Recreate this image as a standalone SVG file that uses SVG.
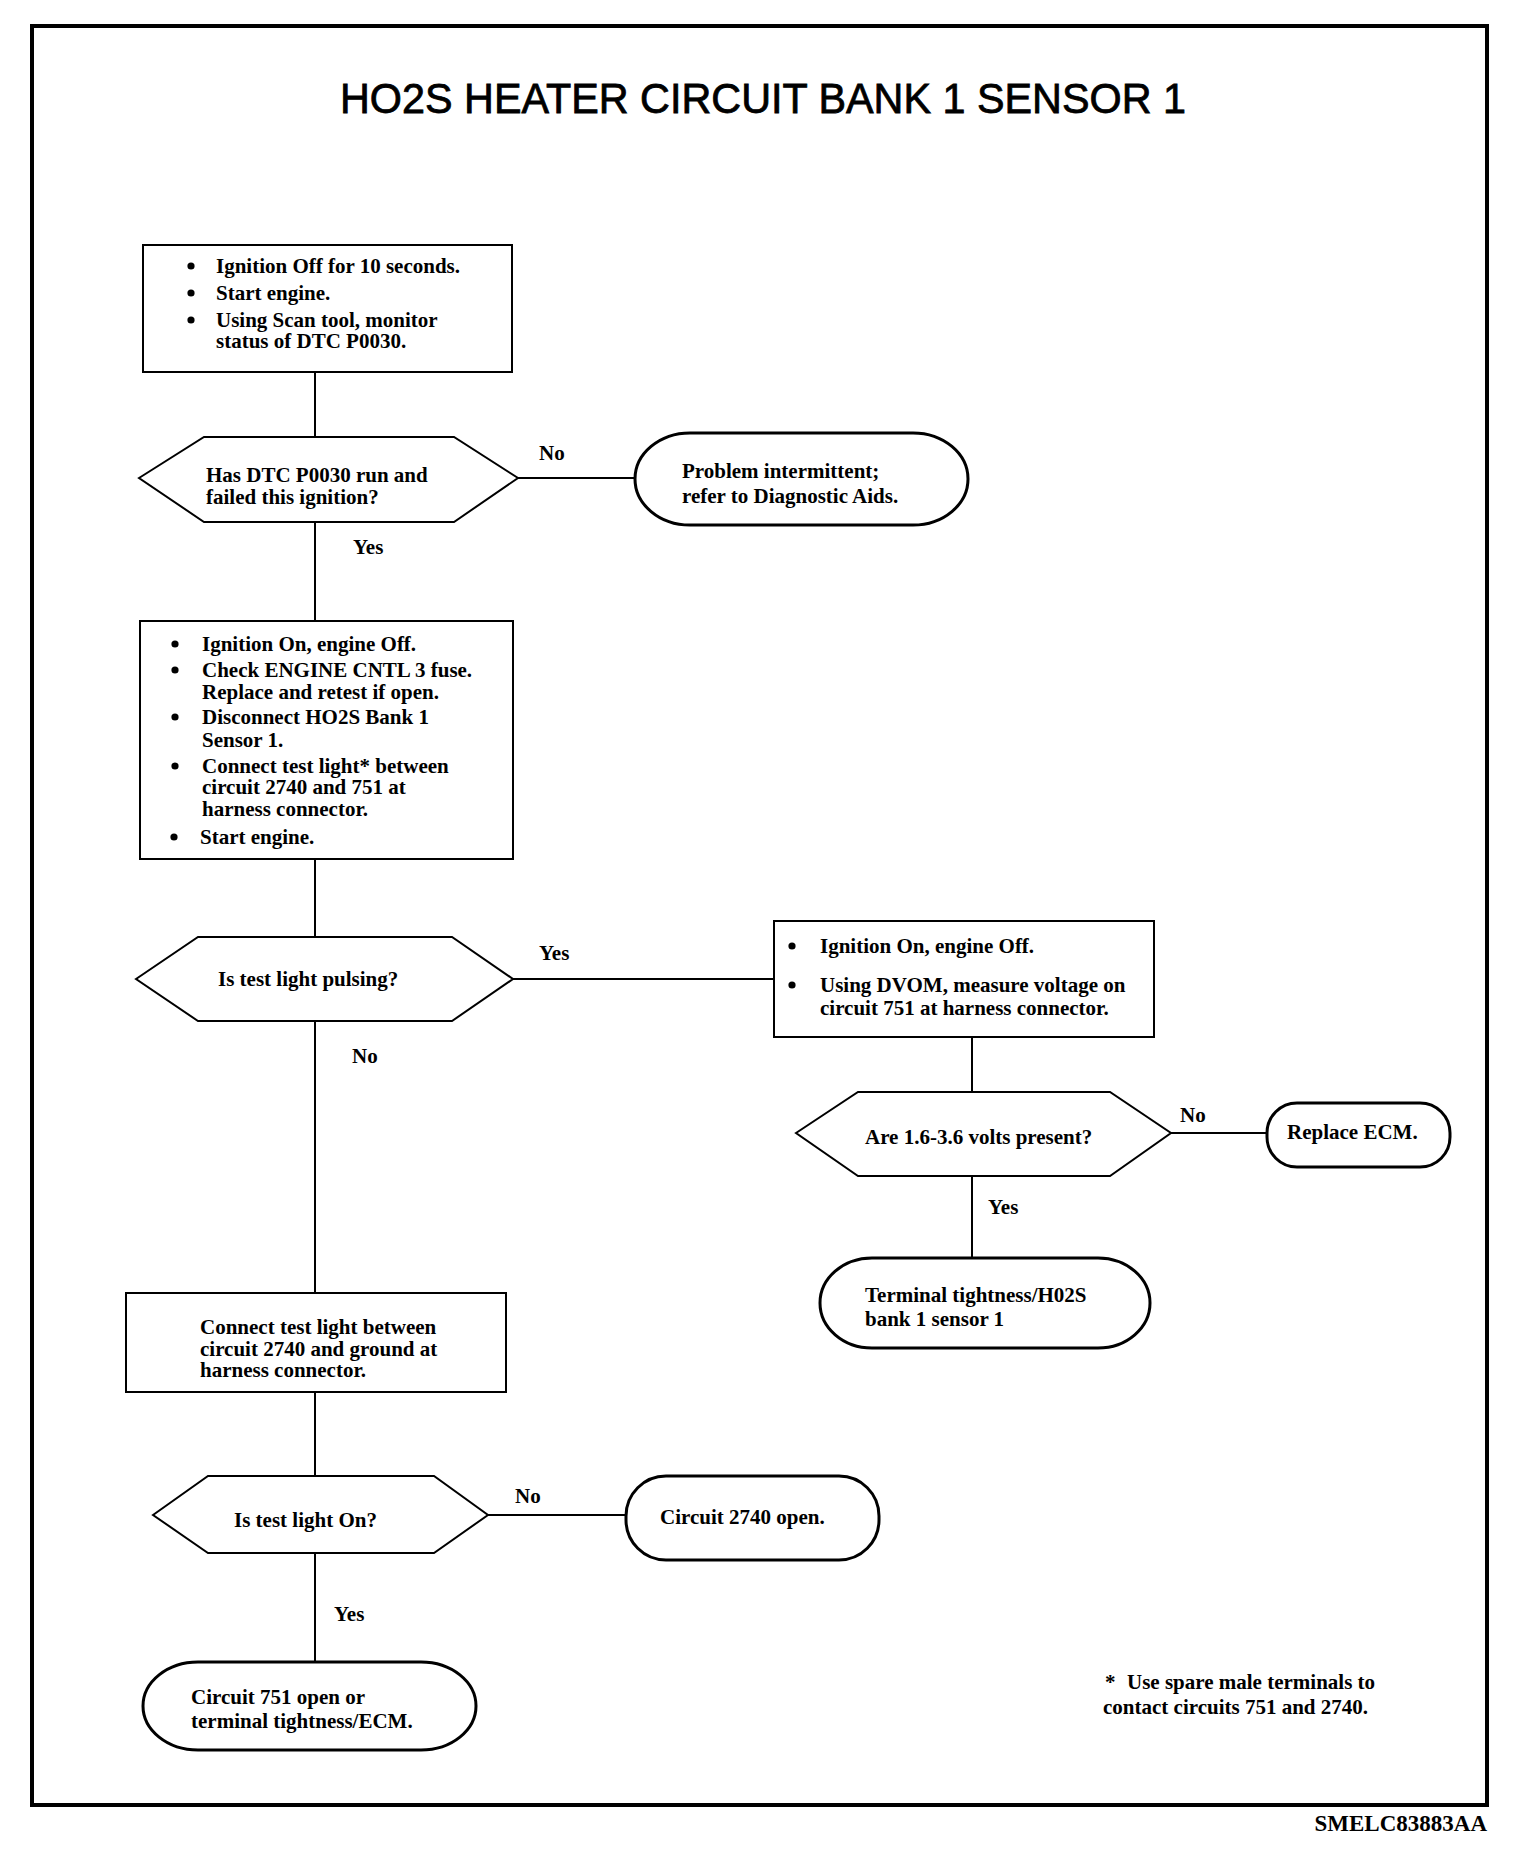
<svg xmlns="http://www.w3.org/2000/svg" width="1536" height="1860" viewBox="0 0 1536 1860">
<style>
.t{font-family:"Liberation Serif","Times New Roman",serif;font-weight:bold;font-size:21px;fill:#000}
.title{font-family:"Liberation Sans",Arial,sans-serif;font-size:43px;fill:#000;stroke:#000;stroke-width:0.8}
.box{fill:#fff;stroke:#000;stroke-width:2}
.term{fill:#fff;stroke:#000;stroke-width:3}
.dec{fill:#fff;stroke:#000;stroke-width:2}
.ln{stroke:#000;stroke-width:2;fill:none}
.bul{fill:#000}
</style>
<rect x="0" y="0" width="1536" height="1860" fill="#fff"/>
<rect x="32" y="26" width="1455" height="1779" fill="none" stroke="#000" stroke-width="4"/>
<text class="title" x="340" y="113" textLength="846" lengthAdjust="spacingAndGlyphs">HO2S HEATER CIRCUIT BANK 1 SENSOR 1</text>

<g id="connectors">
<line class="ln" x1="315" y1="372" x2="315" y2="437"/>
<line class="ln" x1="518" y1="478" x2="635" y2="478"/>
<line class="ln" x1="315" y1="522" x2="315" y2="621"/>
<line class="ln" x1="315" y1="859" x2="315" y2="937"/>
<line class="ln" x1="513" y1="979" x2="774" y2="979"/>
<line class="ln" x1="315" y1="1021" x2="315" y2="1293"/>
<line class="ln" x1="972" y1="1037" x2="972" y2="1092"/>
<line class="ln" x1="1171" y1="1133" x2="1267" y2="1133"/>
<line class="ln" x1="972" y1="1176" x2="972" y2="1258"/>
<line class="ln" x1="315" y1="1392" x2="315" y2="1476"/>
<line class="ln" x1="488" y1="1515" x2="626" y2="1515"/>
<line class="ln" x1="315" y1="1553" x2="315" y2="1662"/>
<text class="t" x="539" y="460">No</text>
<text class="t" x="353" y="554">Yes</text>
<text class="t" x="539" y="960">Yes</text>
<text class="t" x="352" y="1063">No</text>
<text class="t" x="1180" y="1122">No</text>
<text class="t" x="988" y="1214">Yes</text>
<text class="t" x="515" y="1503">No</text>
<text class="t" x="334" y="1621">Yes</text>
</g>

<g id="box1">
<rect class="box" x="143" y="245" width="369" height="127"/>
<circle class="bul" cx="191" cy="266" r="3.6"/><text class="t" x="216" y="273">Ignition Off for 10 seconds.</text>
<circle class="bul" cx="191" cy="293" r="3.6"/><text class="t" x="216" y="300">Start engine.</text>
<circle class="bul" cx="191" cy="320" r="3.6"/><text class="t" x="216" y="327">Using Scan tool, monitor</text>
<text class="t" x="216" y="348">status of DTC P0030.</text>
</g>

<g id="dec1">
<polygon class="dec" points="139,478 204,437 454,437 518,478 454,522 204,522"/>
<text class="t" x="206" y="482">Has DTC P0030 run and</text>
<text class="t" x="206" y="504">failed this ignition?</text>
</g>

<g id="term1">
<rect class="term" x="635" y="433" width="333" height="92" rx="55" ry="46"/>
<text class="t" x="682" y="478">Problem intermittent;</text>
<text class="t" x="682" y="503">refer to Diagnostic Aids.</text>
</g>

<g id="box2">
<rect class="box" x="140" y="621" width="373" height="238"/>
<circle class="bul" cx="175" cy="644" r="3.6"/><text class="t" x="202" y="651">Ignition On, engine Off.</text>
<circle class="bul" cx="175" cy="670" r="3.6"/><text class="t" x="202" y="677">Check ENGINE CNTL 3 fuse.</text>
<text class="t" x="202" y="699">Replace and retest if open.</text>
<circle class="bul" cx="175" cy="717" r="3.6"/><text class="t" x="202" y="724">Disconnect HO2S Bank 1</text>
<text class="t" x="202" y="747">Sensor 1.</text>
<circle class="bul" cx="175" cy="766" r="3.6"/><text class="t" x="202" y="773">Connect test light* between</text>
<text class="t" x="202" y="794">circuit 2740 and 751 at</text>
<text class="t" x="202" y="816">harness connector.</text>
<circle class="bul" cx="174" cy="837" r="3.6"/><text class="t" x="200" y="844">Start engine.</text>
</g>

<g id="dec2">
<polygon class="dec" points="136,979 198,937 452,937 513,979 452,1021 198,1021"/>
<text class="t" x="218" y="986">Is test light pulsing?</text>
</g>

<g id="box3">
<rect class="box" x="774" y="921" width="380" height="116"/>
<circle class="bul" cx="792" cy="946" r="3.6"/><text class="t" x="820" y="953">Ignition On, engine Off.</text>
<circle class="bul" cx="792" cy="985" r="3.6"/><text class="t" x="820" y="992">Using DVOM, measure voltage on</text>
<text class="t" x="820" y="1015">circuit 751 at harness connector.</text>
</g>

<g id="dec3">
<polygon class="dec" points="796,1133 858,1092 1110,1092 1171,1133 1110,1176 858,1176"/>
<text class="t" x="865" y="1144">Are 1.6-3.6 volts present?</text>
</g>

<g id="term2">
<rect class="term" x="1267" y="1103" width="183" height="64" rx="30" ry="30"/>
<text class="t" x="1287" y="1139">Replace ECM.</text>
</g>

<g id="term3">
<rect class="term" x="820" y="1258" width="330" height="90" rx="52" ry="45"/>
<text class="t" x="865" y="1302">Terminal tightness/H02S</text>
<text class="t" x="865" y="1326">bank 1 sensor 1</text>
</g>

<g id="box4">
<rect class="box" x="126" y="1293" width="380" height="99"/>
<text class="t" x="200" y="1334">Connect test light between</text>
<text class="t" x="200" y="1356">circuit 2740 and ground at</text>
<text class="t" x="200" y="1377">harness connector.</text>
</g>

<g id="dec4">
<polygon class="dec" points="153,1515 208,1476 434,1476 488,1515 434,1553 208,1553"/>
<text class="t" x="234" y="1527">Is test light On?</text>
</g>

<g id="term4">
<rect class="term" x="626" y="1476" width="253" height="84" rx="40" ry="40"/>
<text class="t" x="660" y="1524">Circuit 2740 open.</text>
</g>

<g id="term5">
<rect class="term" x="143" y="1662" width="333" height="88" rx="55" ry="44"/>
<text class="t" x="191" y="1704">Circuit 751 open or</text>
<text class="t" x="191" y="1728">terminal tightness/ECM.</text>
</g>

<g id="footnote">
<text class="t" x="1105" y="1689">*</text><text class="t" x="1127" y="1689">Use spare male terminals to</text>
<text class="t" x="1103" y="1714">contact circuits 751 and 2740.</text>
</g>
<text class="t" x="1487" y="1831" text-anchor="end" style="font-size:23px">SMELC83883AA</text>
</svg>
